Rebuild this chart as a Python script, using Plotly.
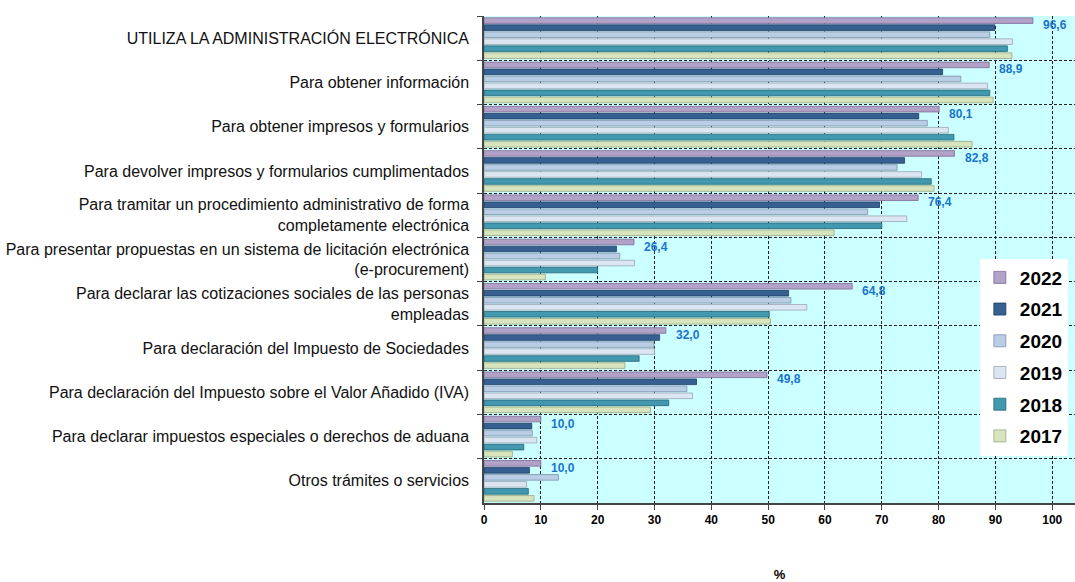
import plotly.graph_objects as go

categories = [
    "UTILIZA LA ADMINISTRACIÓN ELECTRÓNICA",
    "Para obtener información",
    "Para obtener impresos y formularios",
    "Para devolver impresos y formularios cumplimentados",
    "Para tramitar un procedimiento administrativo de forma<br>completamente electrónica",
    "Para presentar propuestas en un sistema de licitación electrónica<br>(e-procurement)",
    "Para declarar las cotizaciones sociales de las personas<br>empleadas",
    "Para declaración del Impuesto de Sociedades",
    "Para declaración del Impuesto sobre el Valor Añadido (IVA)",
    "Para declarar impuestos especiales o derechos de aduana",
    "Otros trámites o servicios",
]

years = ["2022", "2021", "2020", "2019", "2018", "2017"]

v2022 = [96.6, 88.9, 80.1, 82.8, 76.4, 26.4, 64.8, 32.0, 49.8, 10.0, 10.0]
v2021 = [89.9, 80.7, 76.5, 74.0, 69.6, 23.3, 53.6, 30.9, 37.4, 8.4, 8.0]
v2020 = [89.0, 83.9, 78.0, 72.7, 67.5, 23.9, 54.0, 29.9, 35.7, 8.5, 13.1]
v2019 = [93.0, 88.6, 81.7, 77.0, 74.4, 26.5, 56.8, 30.0, 36.7, 9.3, 7.5]
v2018 = [92.1, 89.0, 82.7, 78.7, 70.0, 20.0, 50.2, 27.3, 32.5, 7.0, 7.8]
v2017 = [92.9, 89.6, 85.9, 79.2, 61.6, 10.8, 50.4, 24.8, 29.3, 5.0, 8.8]

x_ticks = [0, 10, 20, 30, 40, 50, 60, 70, 80, 90, 100]

series = [v2022, v2021, v2020, v2019, v2018, v2017]
colors = ["#B3A2C7", "#376092", "#B9CDE5", "#DCE6F2", "#4198AF", "#D7E4BD"]
lines = ["#7F6A99", "#1F3A5F", "#7F93AD", "#9AA6B4", "#276676", "#9AA77E"]

FONT = "Arial, 'Liberation Sans', sans-serif"

fig = go.Figure()
for i, (yr, vals) in enumerate(zip(years, series)):
    fig.add_trace(go.Bar(
        name=yr, y=categories, x=vals, orientation="h",
        marker=dict(color=colors[i], line=dict(color=lines[i], width=0.8)),
        legendgroup=yr,
        hoverinfo="x+name",
    ))

# value labels for the latest year
for cat, v in zip(categories, v2022):
    fig.add_annotation(
        x=v, y=cat, xref="x", yref="y",
        text=f"{v:.1f}".replace(".", ","),
        showarrow=False, xanchor="left", yanchor="middle",
        xshift=8, yshift=13,
        font=dict(family=FONT, size=12, color="#1874CD", weight="bold"),
    )

fig.update_layout(
    width=1075, height=582,
    margin=dict(l=484, r=0, t=16, b=71),
    paper_bgcolor="white",
    plot_bgcolor="#CCFFFF",
    barmode="group",
    bargap=0.05,
    bargroupgap=0.2,
    font=dict(family=FONT, color="black"),
    showlegend=True,
    legend=dict(
        x=0.839, y=0.502, xanchor="left", yanchor="top",
        bgcolor="white", borderwidth=0,
        font=dict(family=FONT, size=19, color="black", weight="bold"),
        tracegroupgap=4,
        itemwidth=30,
    ),
    xaxis=dict(
        range=[0, 104],
        tickvals=x_ticks,
        tickfont=dict(family=FONT, size=12, weight="bold"),
        showgrid=True, gridcolor="#222222", griddash="3px,2px", gridwidth=1,
        zeroline=False,
        showline=True, linecolor="#444444", linewidth=1.5,
        ticks="outside", ticklen=5, tickcolor="#444444",
        title=dict(text="%", font=dict(family=FONT, size=13, weight="bold"), standoff=46),
    ),
    yaxis=dict(
        autorange="reversed",
        tickson="boundaries",
        showgrid=True, gridcolor="#222222", griddash="3px,2px", gridwidth=1,
        showline=True, linecolor="#444444", linewidth=1.5,
        ticks="outside", ticklen=5, tickcolor="#444444",
        tickfont=dict(family=FONT, size=16, color="#111111"),
        ticklabelstandoff=10,
    ),
)

fig.write_html(
    "out.html",
    config={"displayModeBar": False},
    post_script="document.body.style.margin='0';",
)
